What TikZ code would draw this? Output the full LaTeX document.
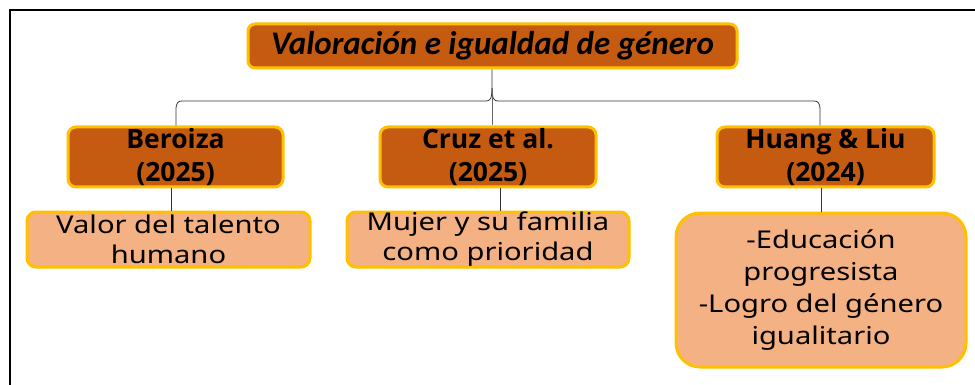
\documentclass[tikz,border=0pt]{standalone}
\usepackage{fontspec}
\setmainfont{Noto Sans}[FakeStretch=1.19]
\newfontfamily\titlefont{Carlito}
\newfontfamily\authfont{Open Sans}
\definecolor{rust}{HTML}{C55A11}
\definecolor{gold}{HTML}{FFC000}
\definecolor{peach}{HTML}{F4B183}
\begin{document}
\begin{tikzpicture}[x=1pt,y=-1pt,
  topbox/.style={draw=gold,fill=rust,line width=3pt,rounded corners=7pt,inner sep=0pt},
  subbox/.style={draw=gold,fill=rust,line width=3pt,rounded corners=8pt,inner sep=0pt,font=\authfont\fontsize{26.5}{33}\selectfont\bfseries,align=center},
  leafbox/.style={draw=gold,fill=peach,line width=3pt,rounded corners=9pt,inner sep=0pt,font=\fontsize{24.5}{30}\selectfont,align=center},
  conn/.style={draw=black!80,line width=0.8pt}]
\useasboundingbox (0,0) rectangle (975,385);
\draw[line width=1.5pt] (10,385) -- (10,10) -- (975,10);
% title
\node[topbox,minimum width=489pt,minimum height=44pt] (title) at (492.5,46)
  {\titlefont\fontsize{33}{36}\selectfont\bfseries\itshape Valoración e igualdad de género};
% authors
\node[subbox,minimum width=215pt,minimum height=60pt] (b) at (175.5,157) {Beroiza\\(2025)};
\node[subbox,minimum width=216pt,minimum height=60pt] (c) at (488,157) {Cruz et al.\\(2025)};
\node[subbox,minimum width=217pt,minimum height=60pt] (h) at (825.5,157) {Huang \& Liu\\(2024)};
% leaves
\node[leafbox,minimum width=283pt,minimum height=55pt] (bl) at (168.5,239.5) {Valor del talento\\humano};
\node[leafbox,minimum width=282pt,minimum height=55pt] (cl) at (488,239.5) {Mujer y su familia\\como prioridad};
\node[leafbox,minimum width=290pt,minimum height=154pt,rounded corners=24pt,font=\fontsize{24.5}{32}\selectfont] (hl) at (821,290) {-Educación\\progresista\\-Logro del género\\igualitario};
% connectors
\coordinate (j) at (492,101);
\draw[conn] (title.south -| j) -- (492,88) .. controls (492,99) and (490,101) .. (486,101)
  -- (182,101) .. controls (178,101) and (176,103) .. (176,110) -- (b.north -| 176,0);
\draw[conn] (492,88) .. controls (492,99) and (494,101) .. (498,101)
  -- (814,101) .. controls (818,101) and (820,103) .. (820,110) -- (h.north -| 820,0);
\draw[conn,draw=black!60] (492,88) -- (c.north -| 492,0);
\draw[conn] (b.south -| 171,0) -- (bl.north -| 171,0);
\draw[conn] (c.south -| 500,0) -- (cl.north -| 500,0);
\draw[conn] (h.south -| 821,0) -- (hl.north -| 821,0);
\end{tikzpicture}
\end{document}
